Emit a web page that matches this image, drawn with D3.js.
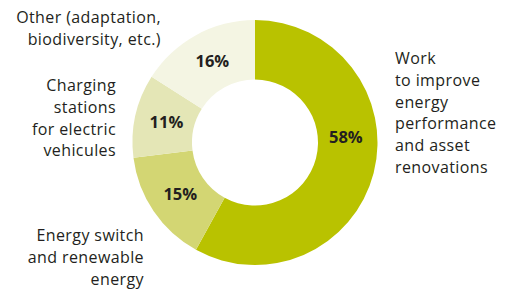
<!DOCTYPE html>
<html>
<head>
<meta charset="utf-8">
<script src="https://cdn.jsdelivr.net/npm/d3@7"></script>
<style>
  body { margin: 0; background: #fff; }
  svg text { font-family: "Open Sans", sans-serif; fill: #231f20; }
  .lbl { font-size: 16px; letter-spacing: 0.4px; }
  .pct { font-size: 16.5px; font-weight: bold; }
</style>
</head>
<body>
<div id="chartHolder"></div>
<script>
// shares of the spending, clockwise from the top
const categories = [
  ["Work", "to improve", "energy", "performance", "and asset", "renovations"],
  ["Energy switch", "and renewable", "energy"],
  ["Charging", "stations", "for electric", "vehicules"],
  ["Other (adaptation,", "biodiversity, etc.)"]
];
const values = [58, 15, 11, 16];
const colors = ["#b9c200", "#d3d673", "#e4e6b6", "#f4f5e3"];

const w = 511;
const h = 290;
const cx = 255;
const cy = 142.5;
const outerR = 122.5;
const innerR = 63;

const svg = d3.select("#chartHolder").append("svg")
  .attr("width", w)
  .attr("height", h);

const g = svg.append("g")
  .attr("transform", "translate(" + cx + "," + cy + ")");

const pie = d3.pie().sort(null).value((d) => d);
const arcs = pie(values);

const arc = d3.arc().innerRadius(innerR).outerRadius(outerR);

g.selectAll("path")
  .data(arcs)
  .enter()
  .append("path")
  .attr("d", arc)
  .attr("fill", (d, i) => colors[i]);

// percentage labels, the big slice gets its label pulled up near the horizontal
g.selectAll(".pct")
  .data(arcs)
  .enter()
  .append("text")
  .attr("class", "pct")
  .attr("text-anchor", "middle")
  .attr("dy", "0.35em")
  .attr("transform", (d, i) => {
    let c;
    if (i === 0) {
      const a = Math.PI * 0.48;
      c = [Math.sin(a) * 91, -Math.cos(a) * 91];
    } else {
      c = arc.centroid(d);
      c = [c[0] + 2, c[1]];
    }
    return "translate(" + c[0] + "," + c[1] + ")";
  })
  .text((d) => d.data + "%");

// category labels outside the ring
const labelPos = [
  { x: 395, y: 64, anchor: "start" },
  { x: 144, y: 241, anchor: "end" },
  { x: 116, y: 91, anchor: "end" },
  { x: 161, y: 23, anchor: "end" }
];
const lineH = 21.8;

categories.forEach((lines, i) => {
  const t = svg.append("text")
    .attr("class", "lbl")
    .attr("text-anchor", labelPos[i].anchor)
    .attr("x", labelPos[i].x)
    .attr("y", labelPos[i].y);
  lines.forEach((s, k) => {
    t.append("tspan")
      .attr("x", labelPos[i].x)
      .attr("y", labelPos[i].y + k * lineH)
      .text(s);
  });
});
</script>
</body>
</html>
